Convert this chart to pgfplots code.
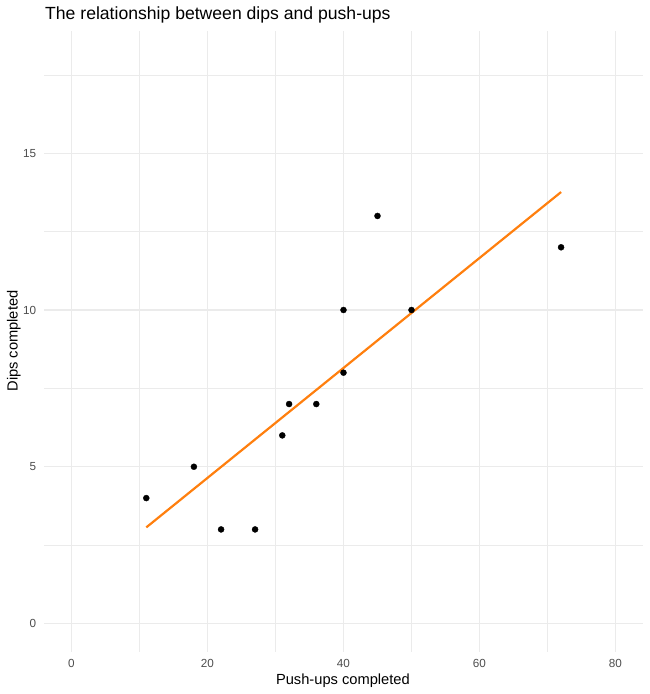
\documentclass[border=0pt]{standalone}
\usepackage{pgfplots}
\pgfplotsset{compat=1.18}
\usepackage{fontspec}
\setmainfont{Liberation Sans}
\definecolor{gridc}{HTML}{EBEBEB}
\definecolor{tickc}{HTML}{4D4D4D}
\definecolor{fitc}{HTML}{FF7F0E}
\begin{document}
\begin{tikzpicture}[x=1pt,y=1pt]
\useasboundingbox (0,0) rectangle (650,694);
\begin{axis}[
  at={(44.3pt,42.3pt)}, anchor=south west,
  scale only axis, width=598.4pt, height=620.7pt,
  xmin=-4, xmax=84, ymin=-0.9, ymax=18.9,
  xtick={0,20,40,60,80}, ytick={0,5,10,15},
  minor xtick={10,30,50,70}, minor ytick={2.5,7.5,12.5,17.5},
  grid=both,
  major grid style={draw=gridc, line width=1.07pt},
  minor grid style={draw=gridc, line width=0.53pt},
  axis line style={draw=none},
  major tick length=0pt, minor tick length=0pt,
  /pgf/number format/assume math mode=true,
  tick label style={font=\fontsize{11.7}{12}\selectfont, text=tickc, inner sep=0pt},
  xticklabel style={anchor=base, yshift=-15.8pt},
  yticklabel style={anchor=east, xshift=-8pt},
  clip=false,
]
\addplot[only marks, mark=*, mark size=3pt, draw=black, fill=black] coordinates {
 (11,4) (18,5) (22,3) (27,3) (31,6) (32,7) (36,7) (40,10) (40,8) (45,13) (50,10) (72,12)
};
\addplot[fitc, line width=2.2pt, no marks] coordinates {(11,3.066) (72,13.763)};
\end{axis}
\node[anchor=base west, inner sep=0pt, font=\fontsize{17.6}{20}\selectfont] at (45,674) {The relationship between dips and push-ups};
\node[anchor=base, inner sep=0pt, font=\fontsize{14.67}{16}\selectfont] at (342.9,9.5) {Push-ups completed};
\node[anchor=base, rotate=90, inner sep=0pt, font=\fontsize{14.67}{16}\selectfont] at (17.5,353) {Dips completed};
\end{tikzpicture}
\end{document}
